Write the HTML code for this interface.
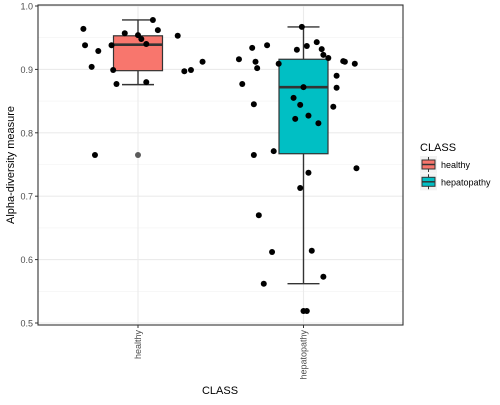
<!DOCTYPE html>
<html><head><meta charset="utf-8"><style>
body{margin:0;background:#fff;font-family:"Liberation Sans",sans-serif}
svg text{font-family:"Liberation Sans",sans-serif}
</style></head><body>
<svg id="c" width="500" height="400"></svg>
<script>
const categories=["healthy","hepatopathy"];
const healthyValues=[.964,.938,.929,.904,.938,.957,.954,.948,.940,.978,.962,.953,.899,.877,.880,.897,.899,.912,.765];
const healthyJitter=[-.33,-.32,-.24,-.28,-.16,-.08,0,.02,.05,.09,.12,.24,-.15,-.13,.05,.28,.32,.39,-.26];
const hepValues=[.967,.934,.938,.916,.912,.902,.909,.931,.937,.943,.932,.923,.918,.913,.912,.909,.877,.890,.871,.872,.845,.855,.844,.841,.822,.827,.815,.765,.771,.744,.737,.713,.670,.612,.614,.573,.562,.519,.519];
const hepJitter=[-.01,-.31,-.22,-.39,-.29,-.28,-.15,-.04,.02,.08,.11,.12,.15,.24,.25,.31,-.37,.20,.20,0,-.30,-.06,-.02,.18,-.05,.03,.09,-.30,-.18,.32,.03,-.02,-.27,-.19,.05,.12,-.24,0,.02];
const q1=[.898,.767], medians=[.939,.872], q3=[.953,.916], whiskLo=[.876,.562], whiskHi=[.978,.967];
const outliers=[[.765],[]];
const yTicks=[0.5,0.6,0.7,0.8,0.9,1.0];
const fills=["#F8766D","#00BFC4"];

const svg=document.getElementById('c');const NS='http://www.w3.org/2000/svg';
function el(t,a,p){const e=document.createElementNS(NS,t);for(const k in a)e.setAttribute(k,a[k]);(p||svg).appendChild(e);return e;}
const L=38,R=403,T=5,B=325;
const y=v=>6+(1-v)*634;
const bw=165.5;
const x=i=>138+i*bw;
const panel=el('rect',{x:L,y:T,width:R-L,height:B-T,fill:'#fff'});


for(let v=0.55;v<1;v+=0.1){const g=el('line',{x1:L,x2:R,y1:y(v),y2:y(v),stroke:'#f2f2f2','stroke-width':0.6});

}
yTicks.forEach(v=>{const g=el('line',{x1:L,x2:R,y1:y(v),y2:y(v),stroke:'#ebebeb','stroke-width':1.1});


el('line',{x1:L-3,x2:L,y1:y(v),y2:y(v),stroke:'#333'});
const t=el('text',{x:L-5,y:y(v)+3.5,'text-anchor':'end','font-size':9,fill:'#4d4d4d'});t.textContent=v.toFixed(1);

});
categories.forEach((c,i)=>{const g=el('line',{x1:x(i),x2:x(i),y1:T,y2:B,stroke:'#ebebeb','stroke-width':1.1});


el('line',{x1:x(i),x2:x(i),y1:B,y2:B+3,stroke:'#333'});
const t=el('text',{transform:`translate(${x(i)+3},${B+5}) rotate(-90)`,'text-anchor':'end','font-size':9,fill:'#4d4d4d'});t.textContent=c;

});
categories.forEach((c,i)=>{
const cx=x(i),hw=24.5;
el('line',{x1:cx,x2:cx,y1:y(whiskHi[i]),y2:y(q3[i]),stroke:'#333','stroke-width':1.4});
el('line',{x1:cx,x2:cx,y1:y(q1[i]),y2:y(whiskLo[i]),stroke:'#333','stroke-width':1.4});
el('line',{x1:cx-16,x2:cx+16,y1:y(whiskHi[i]),y2:y(whiskHi[i]),stroke:'#333','stroke-width':1.4});
el('line',{x1:cx-16,x2:cx+16,y1:y(whiskLo[i]),y2:y(whiskLo[i]),stroke:'#333','stroke-width':1.4});
const b=el('rect',{x:cx-hw,y:y(q3[i]),width:hw*2,height:y(q1[i])-y(q3[i]),fill:fills[i],stroke:'#333','stroke-width':1.2});


el('line',{x1:cx-hw,x2:cx+hw,y1:y(medians[i]),y2:y(medians[i]),stroke:'#333','stroke-width':2.6});
outliers[i].forEach(v=>{const o=el('circle',{cx:cx,cy:y(v),r:3,fill:'#333',opacity:0.8});

});
});
[[healthyValues,healthyJitter],[hepValues,hepJitter]].forEach(([vals,jit],i)=>{
vals.forEach((v,k)=>{const p=el('circle',{cx:x(i)+jit[k]*bw,cy:y(v),r:3,fill:'#000'});

});});
const br=el('rect',{x:L,y:T,width:R-L,height:B-T,fill:'none',stroke:'#333','stroke-width':1.1});
const xt=el('text',{x:220,y:394,'text-anchor':'middle','font-size':11,fill:'#000'});xt.textContent='CLASS';


const yt=el('text',{transform:'translate(14,165) rotate(-90)','text-anchor':'middle','font-size':11,fill:'#000'});yt.textContent='Alpha-diversity measure';


const lt=el('text',{x:420,y:151,'font-size':11,fill:'#000'});lt.textContent='CLASS';


categories.forEach((c,i)=>{const ky=156+i*17.3;
const g=el('g',{});


el('rect',{x:420,y:ky,width:17,height:17,fill:'#f2f2f2'},g);
el('line',{x1:428.5,x2:428.5,y1:ky+1,y2:ky+16,stroke:'#333'},g);
el('rect',{x:422,y:ky+4,width:13,height:9,fill:fills[i],stroke:'#333'},g);
el('line',{x1:422,x2:435,y1:ky+8.5,y2:ky+8.5,stroke:'#333','stroke-width':1.5},g);
const t=el('text',{x:441,y:ky+12,'font-size':9,fill:'#000'},g);t.textContent=c;});
</script>
</body></html>
